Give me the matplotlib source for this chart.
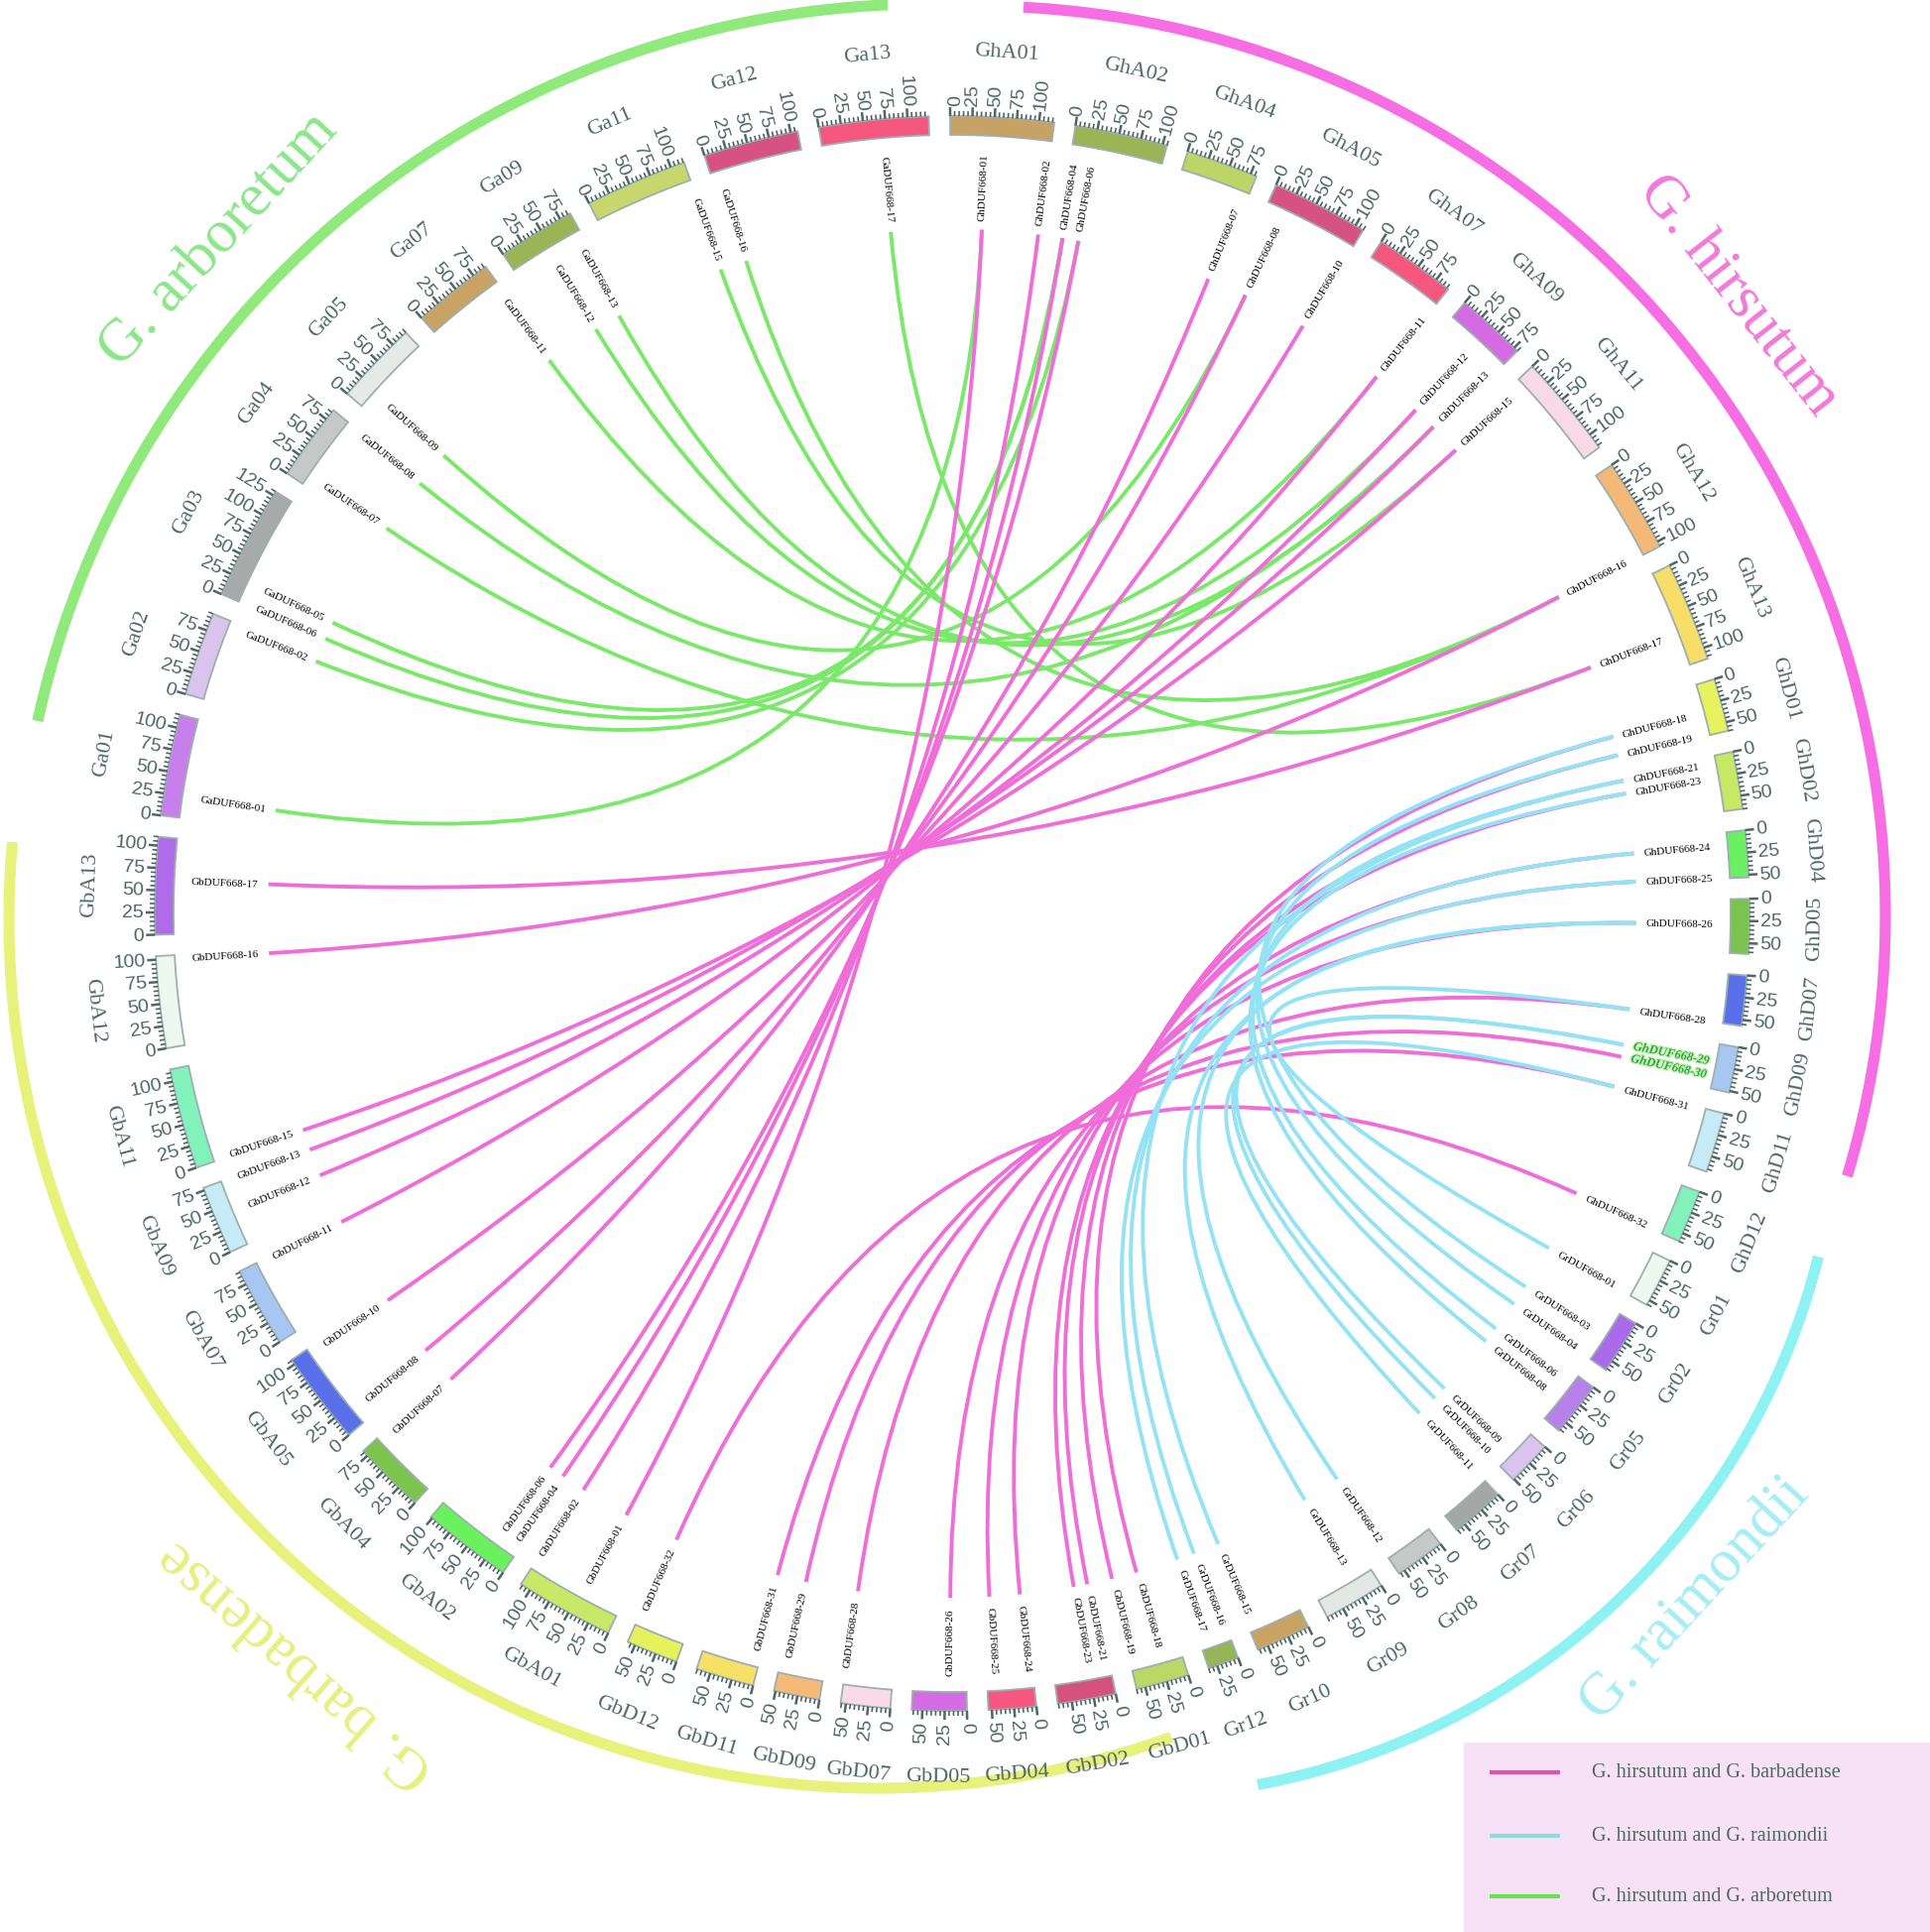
import numpy as np
import matplotlib.pyplot as plt
from matplotlib.path import Path
from matplotlib.patches import PathPatch, Polygon, Rectangle
from matplotlib.collections import LineCollection
import matplotlib.patheffects as pe

# chromosomes, clockwise from 12 o'clock (lengths in Mb)
chroms = ['GhA01', 'GhA02', 'GhA04', 'GhA05', 'GhA07', 'GhA09', 'GhA11', 'GhA12', 'GhA13',
          'GhD01', 'GhD02', 'GhD04', 'GhD05', 'GhD07', 'GhD09', 'GhD11', 'GhD12',
          'Gr01', 'Gr02', 'Gr05', 'Gr06', 'Gr07', 'Gr08', 'Gr09', 'Gr10', 'Gr12',
          'GbD01', 'GbD02', 'GbD04', 'GbD05', 'GbD07', 'GbD09', 'GbD11', 'GbD12',
          'GbA01', 'GbA02', 'GbA04', 'GbA05', 'GbA07', 'GbA09', 'GbA11', 'GbA12', 'GbA13',
          'Ga01', 'Ga02', 'Ga03', 'Ga04', 'Ga05', 'Ga07', 'Ga09', 'Ga11', 'Ga12', 'Ga13']
chrom_len = [117, 105, 82, 110, 92, 80, 118, 106, 113,
             60, 65, 53, 62, 57, 52, 68, 60,
             56, 62, 62, 51, 61, 57, 70, 62, 35,
             60, 66, 54, 62, 56, 52, 66, 59,
             112, 102, 82, 106, 91, 78, 114, 104, 110,
             115, 95, 130, 88, 95, 92, 88, 116, 108, 124]
chrom_colors = ['#C8A264', '#9BB456', '#BDD566', '#D65282', '#F5577F', '#D56BE3', '#F8D9E6', '#F4B976', '#F8DE68',
                '#E6F25E', '#C7E862', '#6AF162', '#7CC24E', '#5A6FEA', '#A8C6F2', '#C6EBF6', '#82F2BC',
                '#EDF9EF', '#A96BEA', '#B681E8', '#DAC4EE', '#A3A8A6', '#C4C8C6', '#E4E8E4', '#C9A364', '#98B458',
                '#BAD866', '#D5527F', '#F6567F', '#D66BE6', '#F9DAE6', '#F5BA78', '#F6E068', '#E6F25C',
                '#C8E868', '#6AF25E', '#7CC44E', '#5A6FEA', '#A8C6F2', '#C6EBF6', '#82F2BC', '#EDF9EF', '#B06BEA',
                '#C77FEC', '#DAC4EE', '#A6ABA9', '#C4C8C6', '#E6EAE6', '#C9A364', '#9BB456', '#C6D86C', '#D65282', '#F5577F']

# genes: id, chromosome, position (Mb)
gene_ids = ['GhDUF668-01', 'GhDUF668-02', 'GhDUF668-04', 'GhDUF668-06', 'GhDUF668-07', 'GhDUF668-08',
            'GhDUF668-10', 'GhDUF668-11', 'GhDUF668-12', 'GhDUF668-13', 'GhDUF668-15', 'GhDUF668-16',
            'GhDUF668-17', 'GhDUF668-18', 'GhDUF668-19', 'GhDUF668-21', 'GhDUF668-23', 'GhDUF668-24',
            'GhDUF668-25', 'GhDUF668-26', 'GhDUF668-28', 'GhDUF668-29', 'GhDUF668-30', 'GhDUF668-31',
            'GhDUF668-32',
            'GrDUF668-01', 'GrDUF668-03', 'GrDUF668-04', 'GrDUF668-06', 'GrDUF668-08', 'GrDUF668-09',
            'GrDUF668-10', 'GrDUF668-11', 'GrDUF668-12', 'GrDUF668-13', 'GrDUF668-15', 'GrDUF668-16',
            'GrDUF668-17',
            'GbDUF668-18', 'GbDUF668-19', 'GbDUF668-21', 'GbDUF668-23', 'GbDUF668-24', 'GbDUF668-25',
            'GbDUF668-26', 'GbDUF668-28', 'GbDUF668-29', 'GbDUF668-31', 'GbDUF668-32', 'GbDUF668-01',
            'GbDUF668-02', 'GbDUF668-04', 'GbDUF668-06', 'GbDUF668-07', 'GbDUF668-08', 'GbDUF668-10',
            'GbDUF668-11', 'GbDUF668-12', 'GbDUF668-13', 'GbDUF668-15', 'GbDUF668-16', 'GbDUF668-17',
            'GaDUF668-01', 'GaDUF668-02', 'GaDUF668-06', 'GaDUF668-05', 'GaDUF668-07', 'GaDUF668-08',
            'GaDUF668-09', 'GaDUF668-11', 'GaDUF668-12', 'GaDUF668-13', 'GaDUF668-15', 'GaDUF668-16',
            'GaDUF668-17']
gene_chrom = ['GhA01', 'GhA01', 'GhA02', 'GhA02', 'GhA04', 'GhA05',
              'GhA05', 'GhA07', 'GhA09', 'GhA09', 'GhA11', 'GhA12',
              'GhA13', 'GhD01', 'GhD01', 'GhD02', 'GhD02', 'GhD04',
              'GhD04', 'GhD05', 'GhD07', 'GhD09', 'GhD09', 'GhD11',
              'GhD12',
              'Gr01', 'Gr02', 'Gr02', 'Gr05', 'Gr05', 'Gr06',
              'Gr06', 'Gr07', 'Gr08', 'Gr09', 'Gr10', 'Gr12',
              'Gr12',
              'GbD01', 'GbD01', 'GbD02', 'GbD02', 'GbD04', 'GbD04',
              'GbD05', 'GbD07', 'GbD09', 'GbD11', 'GbD12', 'GbA01',
              'GbA01', 'GbA02', 'GbA02', 'GbA04', 'GbA05', 'GbA05',
              'GbA07', 'GbA09', 'GbA09', 'GbA11', 'GbA12', 'GbA13',
              'Ga01', 'Ga02', 'Ga03', 'Ga03', 'Ga04', 'Ga04',
              'Ga05', 'Ga07', 'Ga09', 'Ga09', 'Ga11', 'Ga12',
              'Ga13']
gene_mb = [41, 115, 6, 27, 75, 22,
           107, 90, 41, 73, 11, 104,
           75, 33, 58, 8, 25, 15,
           52, 29, 56, 22, 38, 2,
           58,
           54, 33, 60, 14, 35, 31,
           49, 2, 55, 24, 57, 5,
           28,
           25, 58, 7, 25, 6, 46,
           19, 54, 43, 5, 55, 45,
           110, 6, 26, 74, 18, 100,
           89, 41, 77, 2, 100, 62,
           25, 88, 1, 24, 12, 85,
           21, 88, 45, 80, 114, 9,
           70]

# collinear pairs
links_barbadense = [('GbDUF668-01', 'GhDUF668-01'), ('GbDUF668-02', 'GhDUF668-02'), ('GbDUF668-04', 'GhDUF668-04'),
                    ('GbDUF668-06', 'GhDUF668-06'), ('GbDUF668-07', 'GhDUF668-07'), ('GbDUF668-08', 'GhDUF668-08'),
                    ('GbDUF668-10', 'GhDUF668-10'), ('GbDUF668-11', 'GhDUF668-11'), ('GbDUF668-12', 'GhDUF668-12'),
                    ('GbDUF668-13', 'GhDUF668-13'), ('GbDUF668-15', 'GhDUF668-15'), ('GbDUF668-16', 'GhDUF668-16'),
                    ('GbDUF668-17', 'GhDUF668-17'), ('GbDUF668-18', 'GhDUF668-18'), ('GbDUF668-19', 'GhDUF668-19'),
                    ('GbDUF668-21', 'GhDUF668-21'), ('GbDUF668-23', 'GhDUF668-23'), ('GbDUF668-24', 'GhDUF668-24'),
                    ('GbDUF668-25', 'GhDUF668-25'), ('GbDUF668-26', 'GhDUF668-26'), ('GbDUF668-28', 'GhDUF668-28'),
                    ('GbDUF668-29', 'GhDUF668-30'), ('GbDUF668-31', 'GhDUF668-31'), ('GbDUF668-32', 'GhDUF668-32')]
links_raimondii = [('GrDUF668-01', 'GhDUF668-28'), ('GrDUF668-03', 'GhDUF668-18'), ('GrDUF668-04', 'GhDUF668-19'),
                   ('GrDUF668-06', 'GhDUF668-21'), ('GrDUF668-08', 'GhDUF668-23'), ('GrDUF668-09', 'GhDUF668-29'),
                   ('GrDUF668-10', 'GhDUF668-29'), ('GrDUF668-11', 'GhDUF668-31'), ('GrDUF668-12', 'GhDUF668-26'),
                   ('GrDUF668-13', 'GhDUF668-26'), ('GrDUF668-15', 'GhDUF668-21'), ('GrDUF668-16', 'GhDUF668-24'),
                   ('GrDUF668-17', 'GhDUF668-25')]
links_arboretum = [('GaDUF668-01', 'GhDUF668-01'), ('GaDUF668-02', 'GhDUF668-06'), ('GaDUF668-05', 'GhDUF668-04'),
                   ('GaDUF668-06', 'GhDUF668-04'), ('GaDUF668-07', 'GhDUF668-16'), ('GaDUF668-08', 'GhDUF668-13'),
                   ('GaDUF668-09', 'GhDUF668-08'), ('GaDUF668-11', 'GhDUF668-11'), ('GaDUF668-12', 'GhDUF668-12'),
                   ('GaDUF668-13', 'GhDUF668-13'), ('GaDUF668-15', 'GhDUF668-15'), ('GaDUF668-16', 'GhDUF668-16'),
                   ('GaDUF668-17', 'GhDUF668-17')]

highlight = ['GhDUF668-29', 'GhDUF668-30']
species_names = ['G. arboretum', 'G. hirsutum', 'G. raimondii', 'G. barbadense']
legend_labels = ['G. hirsutum and G. barbadense', 'G. hirsutum and G. raimondii', 'G. hirsutum and G. arboretum']

# ---- geometry ------------------------------------------------------------
CX, CY = 960, 922
R_IN, R_OUT = 785, 804
R_LINK, R_GENE = 690, 700
R_TLAB, R_NAME = 815, 870
GAP, START = 1.54, -0.14
TXT = '#4F6666'

scale = (360 - GAP * len(chroms)) / sum(chrom_len)
starts = {}
a = START
for c, n in zip(chroms, chrom_len):
    starts[c] = a
    a += n * scale + GAP
gene_angle = {g: starts[c] + mb * scale for g, c, mb in zip(gene_ids, gene_chrom, gene_mb)}


def xy(phi, r):
    t = np.radians(phi)
    return CX + r * np.sin(t), CY - r * np.cos(t)


def radial(phi):
    phi = phi % 360
    if phi < 180:
        return dict(rotation=90 - phi, ha='left')
    return dict(rotation=270 - phi, ha='right')


def tangential(phi):
    r = (-phi + 180) % 360 - 180
    if r > 90:
        r -= 180
    elif r < -90:
        r += 180
    return r


fig = plt.figure(figsize=(19.46, 19.49), dpi=100)
ax = fig.add_axes([0, 0, 1, 1])
ax.set_xlim(0, 1946)
ax.set_ylim(1949, 0)
ax.axis('off')

# species arcs: centre, radius, clockwise start/end points
arcs = [((935, 923), 918, (38, 728), (895, 6), '#8FEA7B'),
        ((984, 924), 917, (1032, 8), (1863, 1187), '#F76EE4'),
        ((1135, 1093), 720, (1833, 1268), (1268, 1800), '#8EF1F2'),
        ((885, 928), 876, (1181, 1752), (12, 850), '#E6F27A')]
for (acx, acy), r, p0, p1, col in arcs:
    t0 = np.arctan2(p0[1] - acy, p0[0] - acx)
    t1 = np.arctan2(p1[1] - acy, p1[0] - acx)
    if t1 < t0:
        t1 += 2 * np.pi
    t = np.linspace(t0, t1, 300)
    ax.plot(acx + r * np.cos(t), acy + r * np.sin(t), color=col, lw=8, solid_capstyle='butt', zorder=1)

sp_pos = [(312.6, 1005, 47.4, '#8CE68A'), (51.8, 1008, -51.8, '#F07AD8'),
          (132.7, 1018, 47.3, '#A6EEF4'), (221.2, 1005, 138.8, '#E6F080')]
for name, (phi, r, rot, col) in zip(species_names, sp_pos):
    x, y = xy(phi, r)
    ax.text(x, y, name, rotation=rot, ha='center', va='center', fontsize=44,
            family='Liberation Serif', color=col, rotation_mode='anchor')

# chromosome blocks, ticks and names
ticks_major, ticks_minor = [], []
for c, n, col in zip(chroms, chrom_len, chrom_colors):
    a0 = starts[c]
    a1 = a0 + n * scale
    t = np.linspace(a0, a1, 80)
    xo, yo = xy(t, R_OUT)
    xi, yi = xy(t[::-1], R_IN)
    ax.add_patch(Polygon(np.column_stack([np.r_[xo, xi], np.r_[yo, yi]]), closed=True,
                         fc=col, ec='#9DAFAE', lw=1.3, zorder=5))
    for mb in range(0, int(n) + 1, 5):
        p = a0 + mb * scale
        major = mb % 25 == 0
        L = 9 if major else 5
        seg = [xy(p, R_OUT), xy(p, R_OUT + L)]
        (ticks_major if major else ticks_minor).append(seg)
        if major:
            x, y = xy(p, R_TLAB)
            ax.text(x, y, str(mb), va='center', fontsize=14, family='Liberation Sans',
                    color=TXT, rotation_mode='anchor', zorder=6, **radial(p))
    x, y = xy((a0 + a1) / 2, R_NAME)
    ax.text(x, y, c, ha='center', va='center', rotation=tangential((a0 + a1) / 2),
            rotation_mode='anchor', fontsize=16, family='Liberation Serif', color=TXT, zorder=6)
ax.add_collection(LineCollection(ticks_major, colors=TXT, linewidths=1.8, zorder=5))
ax.add_collection(LineCollection(ticks_minor, colors=TXT, linewidths=1.2, zorder=5))


# links: quadratic Bezier through the centre
def draw_link(g1, g2, col, z):
    p0 = xy(gene_angle[g1], R_LINK)
    p2 = xy(gene_angle[g2], R_LINK)
    path = Path([p0, (CX, CY), p2], [Path.MOVETO, Path.CURVE3, Path.CURVE3])
    ax.add_patch(PathPatch(path, fc='none', ec=col, lw=2.8, capstyle='butt', zorder=z))


for g1, g2 in links_arboretum:
    draw_link(g1, g2, '#7AE868', 2)
for g1, g2 in links_barbadense:
    draw_link(g1, g2, '#F06CD8', 3)
for g1, g2 in links_raimondii:
    draw_link(g1, g2, '#94E3F4', 4)

# gene labels
for g in gene_ids:
    p = gene_angle[g]
    x, y = xy(p, R_GENE)
    if g in highlight:
        ax.text(x, y, g, va='center', fontsize=9, family='Liberation Serif', weight='bold',
                style='italic', color='#36A436', rotation_mode='anchor', zorder=6,
                path_effects=[pe.withStroke(linewidth=2, foreground='#C4F4BC')], **radial(p))
    else:
        ax.text(x, y, g, va='center', fontsize=8, family='Liberation Serif', color='black',
                rotation_mode='anchor', zorder=6, **radial(p))

# legend
ax.add_patch(Rectangle((1476, 1758), 470, 191, fc='#F6E1F6', ec='none', zorder=6))
for lab, col, y in zip(legend_labels, ['#DC55AA', '#8CDCDC', '#68E054'], [1788, 1852, 1913]):
    ax.plot([1502, 1573], [y, y], color=col, lw=3, solid_capstyle='butt', zorder=7)
    ax.text(1605, y, lab, va='center', ha='left', fontsize=14.5, family='Liberation Serif',
            color=TXT, zorder=7)

fig.savefig('out.png', dpi=100, facecolor='white')
